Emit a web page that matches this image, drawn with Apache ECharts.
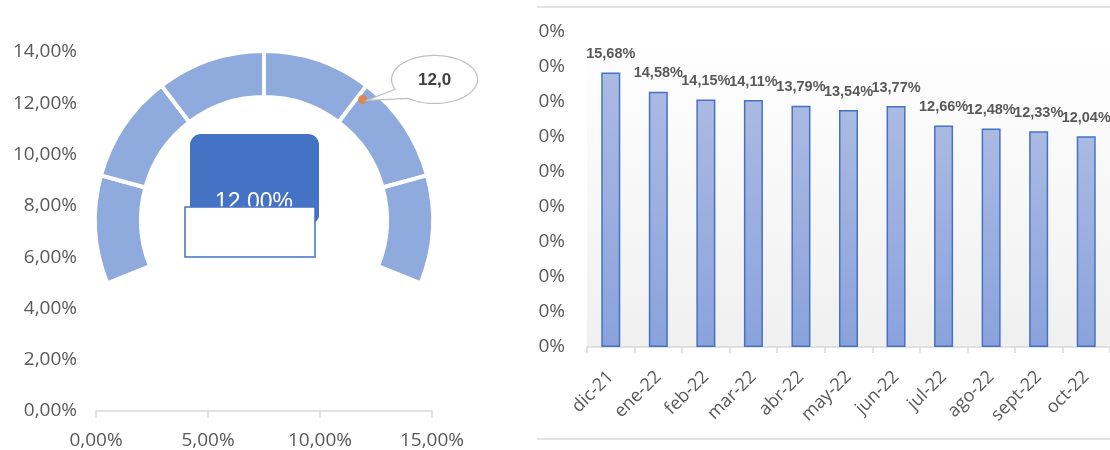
<!DOCTYPE html>
<html><head><meta charset="utf-8">
<script src="https://cdn.jsdelivr.net/npm/echarts@6/dist/echarts.min.js"></script>
<style>html,body{margin:0;padding:0;background:#fff}#c{width:1110px;height:450px}</style>
</head><body><div id="c"></div>
<script>
// ---- left: gauge built on a scatter plot ----
const gaugeXTicks = [0, 5, 10, 15];
const gaugeYTicks = [0, 2, 4, 6, 8, 10, 12, 14];
const gaugeSegments = [1, 1, 1, 1, 1, 1];
const gaugeValue = 12.0;            // shown in the box and the callout
const pointerPoint = [11.9, 12.15]; // orange marker (x %, y %)
// ---- right: monthly rates ----
const months = ['dic-21','ene-22','feb-22','mar-22','abr-22','may-22','jun-22','jul-22','ago-22','sept-22','oct-22'];
const rates = [15.68, 14.58, 14.15, 14.11, 13.79, 13.54, 13.77, 12.66, 12.48, 12.33, 12.04];
const rateTickLabels = ['0%','0%','0%','0%','0%','0%','0%','0%','0%','0%'];

const FONT = "'Open Sans', 'Liberation Sans', sans-serif";
const GREY = '#595959';
const pct2 = v => v.toFixed(2).replace('.', ',') + '%';

const chart = echarts.init(document.getElementById('c'), null, {renderer: 'canvas'});
chart.setOption({
  animation: false,
  backgroundColor: '#fff',
  grid: [
    {left: 96, right: 678, top: 52, bottom: 38},
    {left: 587, right: -8, top: 32, bottom: 103, show: true, borderWidth: 0,
     backgroundColor: new echarts.graphic.LinearGradient(0, 0, 0, 1, [
       {offset: 0, color: '#ffffff'}, {offset: 1, color: '#f0f0f0'}])}
  ],
  xAxis: [
    {type: 'value', gridIndex: 0, min: gaugeXTicks[0], max: gaugeXTicks[gaugeXTicks.length-1], interval: 5,
     axisLine: {show: true, lineStyle: {color: '#d9d9d9', width: 1.5}},
     axisTick: {show: true, length: 7, lineStyle: {color: '#d9d9d9', width: 1.5}},
     splitLine: {show: false},
     axisLabel: {color: GREY, fontSize: 19, fontFamily: FONT, margin: 20, formatter: v => pct2(v)}},
    {type: 'category', gridIndex: 1, data: months,
     axisLine: {show: true, lineStyle: {color: '#d9d9d9', width: 1.5}},
     axisTick: {show: true, length: 6, lineStyle: {color: '#d9d9d9', width: 1.5}},
     axisLabel: {color: GREY, fontSize: 18, fontFamily: FONT, rotate: 45, interval: 0, margin: 27}}
  ],
  yAxis: [
    {type: 'value', gridIndex: 0, min: gaugeYTicks[0], max: gaugeYTicks[gaugeYTicks.length-1], interval: 2,
     axisLine: {show: false}, axisTick: {show: false}, splitLine: {show: false},
     axisLabel: {color: GREY, fontSize: 19, fontFamily: FONT, margin: 19, formatter: v => pct2(v)}},
    {type: 'value', gridIndex: 1, min: 0, max: 18, interval: 2,
     axisLine: {show: false}, axisTick: {show: false}, splitLine: {show: false},
     axisLabel: {color: GREY, fontSize: 19, fontFamily: FONT, margin: 22,
       formatter: (v, i) => rateTickLabels[i]}}
  ],
  series: [
    {type: 'pie', silent: true, center: [264, 220], radius: [123, 169],
     startAngle: 202, endAngle: -22, clockwise: true,
     label: {show: false}, labelLine: {show: false}, z: 1,
     itemStyle: {color: '#8faadc', borderColor: '#ffffff', borderWidth: 4},
     data: gaugeSegments},
    {type: 'scatter', xAxisIndex: 0, yAxisIndex: 0, data: [pointerPoint],
     symbolSize: 9, itemStyle: {color: '#ed7d31'}, z: 5, silent: true},
    {type: 'bar', xAxisIndex: 1, yAxisIndex: 1, data: rates, barWidth: 19,
     itemStyle: {color: new echarts.graphic.LinearGradient(0, 0, 0, 1, [
         {offset: 0, color: '#abbae2'}, {offset: 1, color: '#8aa2dc'}]),
       borderColor: '#4472c4', borderWidth: 1.5},
     label: {show: true, position: 'top', distance: 11, color: GREY, fontWeight: 'bold',
       fontSize: 14.5, fontFamily: "'Liberation Sans', sans-serif", formatter: p => pct2(p.value)}}
  ]
});

// annotations placed from the library's own coordinate conversion
const dot = chart.convertToPixel({seriesIndex: 1}, pointerPoint);
const ex = dot[0] + 72, ey = dot[1] - 20, rx = 43, ry = 24;
const bubble = [];
for (let a = 156; a <= 488; a += 4) {
  const t = a * Math.PI / 180;
  bubble.push([ex + rx * Math.cos(t), ey + ry * Math.sin(t)]);
}
bubble.push([dot[0] + 4, dot[1] + 1]);

chart.setOption({
  graphic: [
    {type: 'line', silent: true, shape: {x1: 537, y1: 7, x2: 1110, y2: 7}, style: {stroke: '#d9d9d9', lineWidth: 1.5}},
    {type: 'line', silent: true, shape: {x1: 537, y1: 439, x2: 1110, y2: 439}, style: {stroke: '#d9d9d9', lineWidth: 1.5}},
    {type: 'rect', silent: true, z: 10, shape: {x: 190, y: 134, width: 129, height: 88, r: [11, 11, 6, 6]},
     style: {fill: '#4472c4'}},
    {type: 'text', silent: true, z: 11, x: 254, y: 203,
     style: {text: gaugeValue.toFixed(2) + '%', fill: '#ffffff', font: "23px 'Liberation Sans', sans-serif",
       textAlign: 'center', textVerticalAlign: 'middle'}},
    {type: 'rect', silent: true, z: 12, shape: {x: 185, y: 207, width: 130, height: 50},
     style: {fill: '#ffffff', stroke: '#4472c4', lineWidth: 1.5}},
    {type: 'polygon', silent: true, z: 8, shape: {points: bubble},
     style: {fill: '#ffffff', stroke: '#bfbfbf', lineWidth: 1.2}},
    {type: 'text', silent: true, z: 9, x: ex, y: ey + 1,
     style: {text: gaugeValue.toFixed(1).replace('.', ','), fill: '#404040',
       font: "bold 17px 'Liberation Sans', sans-serif", textAlign: 'center', textVerticalAlign: 'middle'}}
  ]
});
</script></body></html>
